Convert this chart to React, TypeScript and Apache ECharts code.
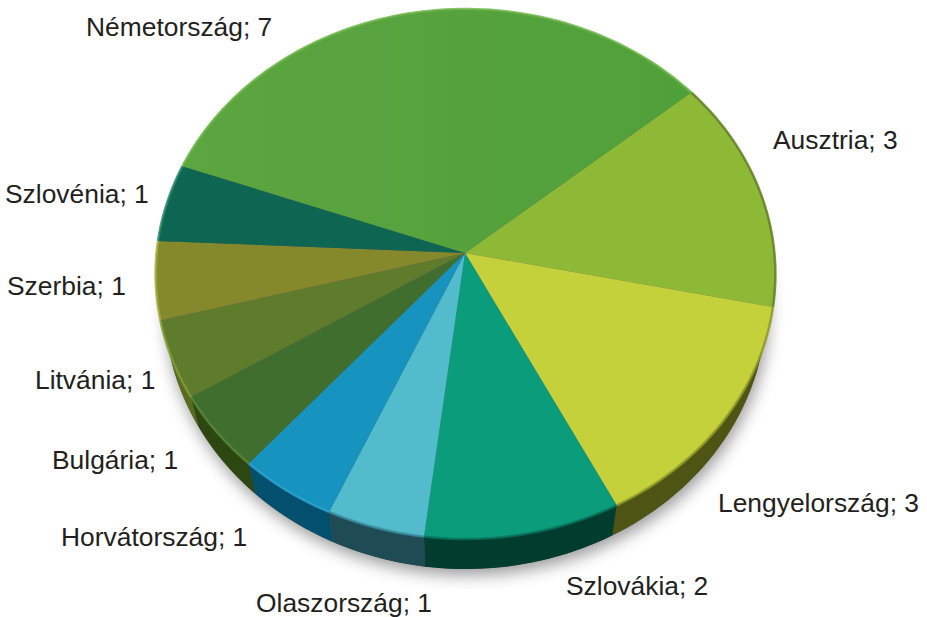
import React, { useEffect, useRef } from "react";
import * as echarts from "echarts";

const COUNTRIES = ["Ausztria", "Lengyelország", "Szlovákia", "Olaszország", "Horvátország", "Bulgária", "Litvánia", "Szerbia", "Szlovénia", "Németország"];
const COUNTS = [3, 3, 2, 1, 1, 1, 1, 1, 1, 7];
const TOP_COLORS = ["#8DB936", "#C4D13A", "#0A9C7B", "#52BCCD", "#1693BF", "#3F6E2F", "#5F7B2C", "#85892B", "#0E6552", "#5CA541"];
const TOP_END_COLORS = ["#8DB936", "#C4D13A", "#0A9C7B", "#52BCCD", "#1693BF", "#3F6E2F", "#5F7B2C", "#85892B", "#0E6552", "#50A03A"];
const SIDE_COLORS = ["#5A6A18", "#4E5514", "#003D2F", "#1F4B54", "#024F6E", "#2C4710", "#5A6A1E", "#6F7420", "#0A4A3A", "#4C8A2E"];
const EDGE_COLORS = ["#5F7A22", "#8C9828", "#06705A", "#3B8C9C", "#2AA6D2", "#5B8A3A", "#82A03C", "#A6AA3A", "#2E8A6E", "#6CB548"];
const LABEL_X = [773, 718, 566, 256, 61, 52, 35, 7, 5, 86];
const LABEL_Y = [140, 503, 586, 603, 537, 460, 380, 286, 194, 27];

const TOTAL = COUNTS.reduce((a, b) => a + b, 0);
const STARTS = COUNTS.map((_, i) => COUNTS.slice(0, i).reduce((a, b) => a + b, 0));
const FIRST_ANGLE = 50;
const APEX_X = 465;
const APEX_Y = 253;
const RIM_SHIFT_X = 0.5;
const RIM_SHIFT_Y = 1;
const A = 309;
const B = 263.5;
const K = 0.0755;
const DEPTH = 30;
const BOTTOM_SCALE = 0.972;

function project(deg: number, scale = 1, dy = 0): number[] {
  const r = (deg * Math.PI) / 180;
  const u = Math.sin(r);
  const v = -Math.cos(r);
  const w = 1 - K * v;
  return [APEX_X + RIM_SHIFT_X + (scale * A * u) / w, APEX_Y + RIM_SHIFT_Y + (B * v) / w + dy];
}

function arc(from: number, to: number, scale = 1, dy = 0): number[][] {
  const n = Math.max(2, Math.ceil((to - from) / 1.5));
  const out: number[][] = [];
  for (let i = 0; i <= n; i++) out.push(project(from + ((to - from) * i) / n, scale, dy));
  return out;
}

function range(api: any) {
  const from = FIRST_ANGLE + (api.value(1) / TOTAL) * 360;
  const to = from + (api.value(0) / TOTAL) * 360;
  return [from, to];
}

export default function App() {
  const ref = useRef<HTMLDivElement>(null);
  useEffect(() => {
    const chart = echarts.init(ref.current!, undefined, { renderer: "svg" });
    const data = COUNTS.map((v, i) => ({ name: COUNTRIES[i], value: [v, STARTS[i]] }));
    chart.setOption({
      animation: false,
      backgroundColor: "#ffffff",
      series: [
        {
          type: "custom",
          coordinateSystem: "none",
          silent: true,
          z: 1,
          data: data.slice(0, 1),
          renderItem: () => ({
            type: "polygon",
            shape: { points: arc(0, 360, BOTTOM_SCALE, DEPTH) },
            style: { fill: "#555", shadowBlur: 16, shadowColor: "rgba(0,0,0,0.4)", shadowOffsetX: 2, shadowOffsetY: 6 },
          }),
        },
        {
          type: "custom",
          coordinateSystem: "none",
          silent: true,
          z: 2,
          data,
          renderItem: (params: any, api: any) => {
            const [from, to] = range(api);
            return {
              type: "polygon",
              shape: { points: [...arc(from, to), ...arc(from, to, BOTTOM_SCALE, DEPTH).reverse()] },
              style: { fill: SIDE_COLORS[params.dataIndex] },
            };
          },
        },
        {
          type: "custom",
          coordinateSystem: "none",
          silent: true,
          z: 3,
          data,
          renderItem: (params: any, api: any) => {
            const [from, to] = range(api);
            const i = params.dataIndex;
            return {
              type: "polygon",
              shape: { points: [[APEX_X, APEX_Y], ...arc(from, to)] },
              style: {
                fill: new echarts.graphic.LinearGradient(0, 0, 1, 0, [
                  { offset: 0, color: TOP_COLORS[i] },
                  { offset: 1, color: TOP_END_COLORS[i] },
                ]),
              },
            };
          },
        },
        {
          type: "custom",
          coordinateSystem: "none",
          silent: true,
          z: 4,
          data,
          renderItem: (params: any, api: any) => {
            const [from, to] = range(api);
            const i = params.dataIndex;
            return {
              type: "group",
              children: [
                {
                  type: "polyline",
                  shape: { points: arc(from, to) },
                  style: { fill: "none", stroke: EDGE_COLORS[i], lineWidth: 2.5, opacity: 0.8 },
                },
                {
                  type: "text",
                  x: LABEL_X[i],
                  y: LABEL_Y[i],
                  style: {
                    text: `${COUNTRIES[i]}; ${api.value(0)}`,
                    fill: "#231F20",
                    font: "26.4px 'Liberation Sans', Arial, sans-serif",
                    align: "left",
                    verticalAlign: "middle",
                  },
                },
              ],
            };
          },
        },
      ],
    });
    return () => chart.dispose();
  }, []);
  return <div ref={ref} style={{ position: "absolute", left: 0, top: 0, width: 927, height: 617 }} />;
}
